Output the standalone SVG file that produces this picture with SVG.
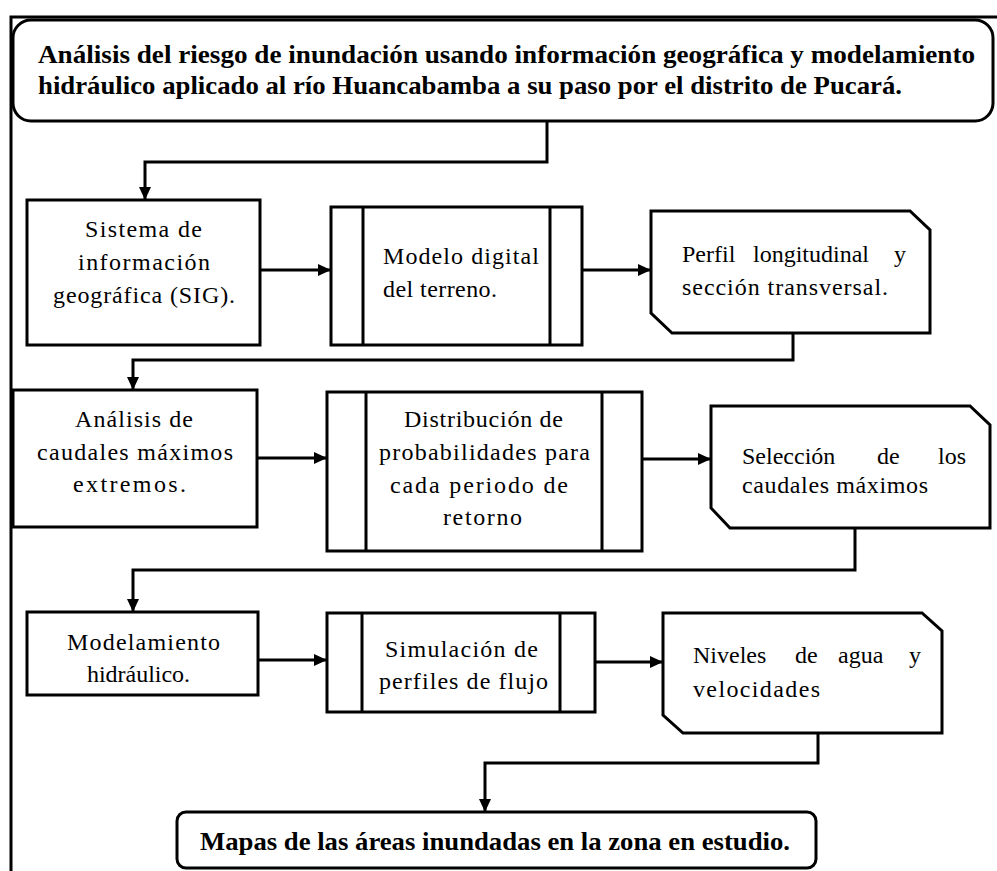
<svg xmlns="http://www.w3.org/2000/svg" width="997" height="871" viewBox="0 0 997 871">
<style>
.shape{fill:#ffffff;stroke:#000000;stroke-width:3;stroke-linejoin:miter}
.ln{fill:none;stroke:#000000;stroke-width:3}
.conn{fill:none;stroke:#000000;stroke-width:3}
.t{font-family:"Liberation Serif","Times New Roman",serif;font-size:24px;fill:#000000}
.tb{font-family:"Liberation Serif","Times New Roman",serif;font-size:25px;font-weight:bold;fill:#000000}
</style>
<defs>
<marker id="arr" markerUnits="userSpaceOnUse" markerWidth="13" markerHeight="12" refX="13" refY="6" orient="auto">
<path d="M0,0 L13,6 L0,12 z" fill="#000000"/>
</marker>
</defs>
<rect width="997" height="871" fill="#ffffff"/>
<g id="frame">
<path class="ln" d="M11,871 L11,17 L997,17"/>
</g>
<g id="connectors">
<path class="conn" d="M547,121 L547,162 L145,162 L145,200" marker-end="url(#arr)"/>
<path class="conn" d="M260,270 L331,270" marker-end="url(#arr)"/>
<path class="conn" d="M582,270 L651,270" marker-end="url(#arr)"/>
<path class="conn" d="M793,333 L793,360 L133,360 L133,390" marker-end="url(#arr)"/>
<path class="conn" d="M257,458 L327,458" marker-end="url(#arr)"/>
<path class="conn" d="M642,459 L711,459" marker-end="url(#arr)"/>
<path class="conn" d="M855,528 L855,570 L133,570 L133,612" marker-end="url(#arr)"/>
<path class="conn" d="M258,660 L327,660" marker-end="url(#arr)"/>
<path class="conn" d="M595,662 L663,662" marker-end="url(#arr)"/>
<path class="conn" d="M818,733 L818,763 L485,763 L485,812" marker-end="url(#arr)"/>
</g>
<g id="title">
<rect class="shape" x="13" y="20" width="980" height="101" rx="18" ry="18"/>
<text class="tb" x="38" y="63" textLength="937" lengthAdjust="spacingAndGlyphs">Análisis del riesgo de inundación usando información geográfica y modelamiento</text>
<text class="tb" x="38" y="94" textLength="864" lengthAdjust="spacingAndGlyphs">hidráulico aplicado al río Huancabamba a su paso por el distrito de Pucará.</text>
</g>
<g id="sig">
<rect class="shape" x="27" y="200" width="233" height="145"/>
<text class="t" x="85" y="237" textLength="117" lengthAdjust="spacing">Sistema de</text>
<text class="t" x="78" y="270" textLength="132" lengthAdjust="spacing">información</text>
<text class="t" x="53" y="303" textLength="182" lengthAdjust="spacing">geográfica (SIG).</text>
</g>
<g id="mdt">
<rect class="shape" x="331" y="207" width="251" height="138"/>
<path class="ln" d="M363,207 L363,345 M550,207 L550,345"/>
<text class="t" x="383" y="264" textLength="156" lengthAdjust="spacing">Modelo digital</text>
<text class="t" x="383" y="297" textLength="114" lengthAdjust="spacing">del terreno.</text>
</g>
<g id="perfil">
<polygon class="shape" points="651,211 910,211 930,230 930,333 672,333 651,313"/>
<text class="t" y="262"><tspan x="682">Perfil</tspan><tspan x="753">longitudinal</tspan><tspan x="894">y</tspan></text>
<text class="t" x="682" y="295" textLength="206" lengthAdjust="spacing">sección transversal.</text>
</g>
<g id="caudales">
<rect class="shape" x="13" y="390" width="244" height="137"/>
<text class="t" x="75" y="427" textLength="118" lengthAdjust="spacing">Análisis de</text>
<text class="t" x="37" y="460" textLength="196" lengthAdjust="spacing">caudales máximos</text>
<text class="t" x="73" y="492" textLength="113" lengthAdjust="spacing">extremos.</text>
</g>
<g id="distribucion">
<rect class="shape" x="327" y="392" width="315" height="159"/>
<path class="ln" d="M366,392 L366,551 M602,392 L602,551"/>
<text class="t" x="404" y="427" textLength="159" lengthAdjust="spacing">Distribución de</text>
<text class="t" x="379" y="460" textLength="211" lengthAdjust="spacing">probabilidades para</text>
<text class="t" x="390" y="493" textLength="178" lengthAdjust="spacing">cada periodo de</text>
<text class="t" x="443" y="525" textLength="79" lengthAdjust="spacing">retorno</text>
</g>
<g id="seleccion">
<polygon class="shape" points="711,406 970,406 990,425 990,528 730,528 711,508"/>
<text class="t" y="464"><tspan x="742">Selección</tspan><tspan x="877">de</tspan><tspan x="938">los</tspan></text>
<text class="t" x="742" y="493" textLength="186" lengthAdjust="spacing">caudales máximos</text>
</g>
<g id="modelamiento">
<rect class="shape" x="27" y="612" width="231" height="83"/>
<text class="t" x="67" y="650" textLength="153" lengthAdjust="spacing">Modelamiento</text>
<text class="t" x="87" y="682" textLength="103" lengthAdjust="spacing">hidráulico.</text>
</g>
<g id="simulacion">
<rect class="shape" x="327" y="613" width="268" height="99"/>
<path class="ln" d="M362,613 L362,712 M560,613 L560,712"/>
<text class="t" x="385" y="657" textLength="153" lengthAdjust="spacing">Simulación de</text>
<text class="t" x="379" y="689" textLength="169" lengthAdjust="spacing">perfiles de flujo</text>
</g>
<g id="niveles">
<polygon class="shape" points="663,613 922,613 942,631 942,733 683,733 663,715"/>
<text class="t" y="663"><tspan x="693">Niveles</tspan><tspan x="795">de</tspan><tspan x="838">agua</tspan><tspan x="909">y</tspan></text>
<text class="t" x="693" y="697" textLength="127" lengthAdjust="spacing">velocidades</text>
</g>
<g id="mapas">
<rect class="shape" x="177" y="812" width="639" height="56" rx="9" ry="9"/>
<text class="tb" x="200" y="850" textLength="590" lengthAdjust="spacingAndGlyphs">Mapas de las áreas inundadas en la zona en estudio.</text>
</g>
</svg>
